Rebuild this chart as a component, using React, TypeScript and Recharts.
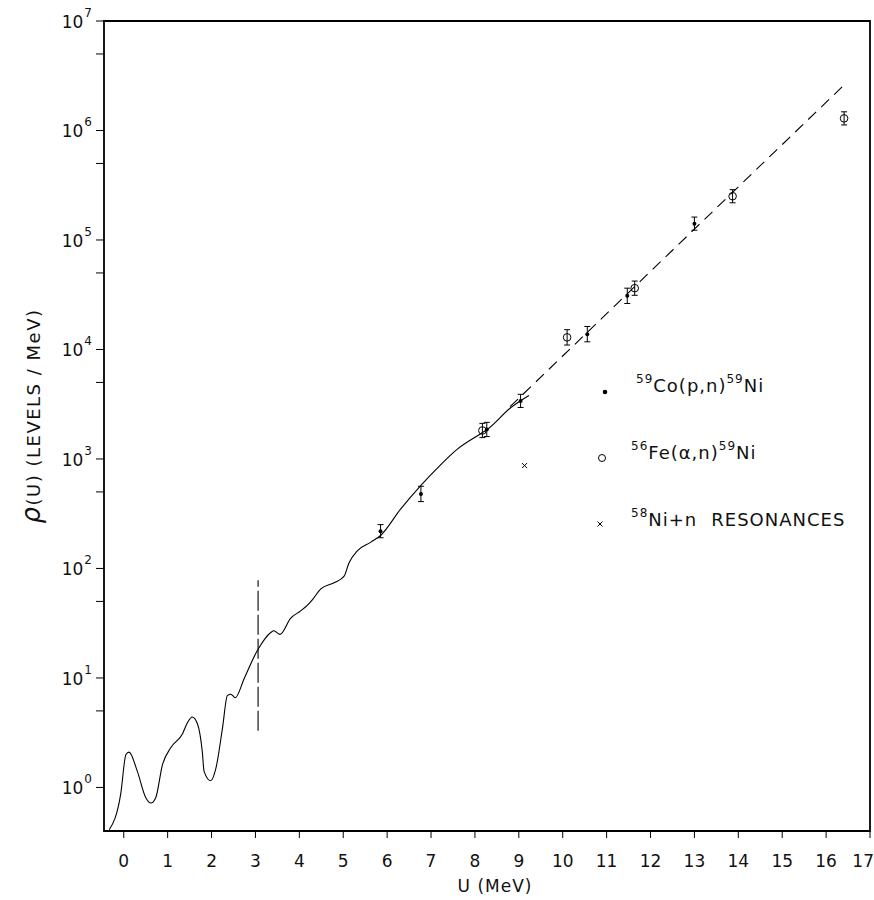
import React from 'react'
import { ComposedChart, Line, Scatter, XAxis, YAxis, ErrorBar, ReferenceArea, Customized } from 'recharts'

// Level density of 59Ni vs excitation energy.
// Solid curve (from low-lying levels)
const curveU = [
  -0.33, -0.07, 0.05, 0.12, 0.31, 0.5, 0.62, 0.73, 0.88, 1.07, 1.34, 1.45, 1.56, 1.68, 1.79, 1.83, 1.98,
  2.1, 2.25, 2.36, 2.44, 2.54, 2.74, 3.05, 3.35, 3.42, 3.56, 3.8, 4.03, 4.18, 4.3, 4.49, 4.79, 5.02,
  5.13, 5.32, 5.63, 5.85, 6.31, 6.77, 7.15, 7.6, 8.13, 8.28, 8.82, 9.04, 9.23,
]
const curveRho = [
  0.41, 0.87, 2.0, 2.1, 1.4, 0.81, 0.72, 0.81, 1.6, 2.3, 3.1, 3.9, 4.4, 3.8, 2.1, 1.4, 1.15,
  1.5, 3.5, 6.9, 7.1, 6.6, 9.8, 18, 26, 27, 25, 35, 41, 46, 52, 65, 74, 85,
  112, 145, 174, 200, 350, 575, 830, 1230, 1700, 1860, 2950, 3400, 3800,
]

// dashed extrapolation
const fitU = [8.8, 16.45]
const fitRho = [3000, 2700000]

// vertical dash-line near 3 MeV
const markU = [3.06, 3.06]
const markRho = [3.3, 78]

// 59Co(p,n)59Ni points, error as half-width in decades
const coU = [5.85, 6.77, 8.27, 9.04, 10.56, 11.47, 13.0]
const coRho = [219, 479, 1860, 3390, 13800, 30900, 141000]
const coErr = [0.06, 0.07, 0.065, 0.06, 0.07, 0.07, 0.06]

// 56Fe(a,n)59Ni points
const feU = [8.17, 10.1, 11.64, 13.87, 16.41]
const feRho = [1820, 12900, 36300, 251000, 1290000]
const feErr = [0.065, 0.07, 0.065, 0.06, 0.06]

// 58Ni+n resonances
const resU = [9.13]
const resRho = [870]

const xTicks = [0, 1, 2, 3, 4, 5, 6, 7, 8, 9, 10, 11, 12, 13, 14, 15, 16, 17]
const yTicks = [1, 5, 10, 50, 100, 500, 1e3, 5e3, 1e4, 5e4, 1e5, 5e5, 1e6, 5e6, 1e7]

const FONT = '"DejaVu Sans", sans-serif'

const zip = (u: number[], r: number[]) => u.map((x, i) => ({ u: x, rho: r[i] }))
const withErr = (u: number[], r: number[], e: number[]) =>
  u.map((x, i) => ({ u: x, rho: r[i], err: [r[i] - r[i] / 10 ** e[i], r[i] * 10 ** e[i] - r[i]] }))

const curve = zip(curveU, curveRho)
const fit = zip(fitU, fitRho)
const mark = zip(markU, markRho)
const coPts = withErr(coU, coRho, coErr)
const fePts = withErr(feU, feRho, feErr)
const resPts = zip(resU, resRho)

const Dot = (p: any) => <circle cx={p.cx} cy={p.cy} r={2} fill="#000" />
const Ring = (p: any) => <circle cx={p.cx} cy={p.cy} r={3.8} fill="none" stroke="#000" strokeWidth={1} />
const Cross = (p: any) => (
  <g stroke="#000" strokeWidth={1}>
    <line x1={p.cx - 2.5} y1={p.cy - 2.5} x2={p.cx + 2.5} y2={p.cy + 2.5} />
    <line x1={p.cx - 2.5} y1={p.cy + 2.5} x2={p.cx + 2.5} y2={p.cy - 2.5} />
  </g>
)

function YTick({ x, y, payload }: any) {
  const v = payload.value
  const e = Math.round(Math.log10(v))
  if (Math.abs(v - 10 ** e) > 1e-6 * v) return null
  return (
    <text x={x - 2} y={y + 7} textAnchor="end" fontFamily={FONT} fontSize={17} fill="#111">
      10
      <tspan dx={1} dy={-11} fontSize={12}>{e}</tspan>
    </text>
  )
}

function XTick({ x, y, payload }: any) {
  const last = payload.value === 17
  return (
    <text x={last ? 874 : x} y={y + 15} dy="0.71em" textAnchor={last ? 'end' : 'middle'} fontFamily={FONT} fontSize={17} fill="#111">
      {payload.value}
    </text>
  )
}

const YLabel = () => (
  <text transform="translate(40,416) rotate(-90)" textAnchor="middle" fontFamily={FONT} fontSize={18} letterSpacing={1.5} fill="#111">
    <tspan fontSize={26} fontStyle="italic">ρ</tspan>(U) (LEVELS / MeV)
  </text>
)

const XLabel = () => (
  <text x={495} y={892} textAnchor="middle" fontFamily={FONT} fontSize={17} letterSpacing={1} fill="#111">
    U (MeV)
  </text>
)

function LegendSvg() {
  const t = { fontFamily: FONT, fontSize: 18, letterSpacing: 1, fill: '#111' }
  return (
    <g>
      <circle cx={605} cy={392} r={2.3} fill="#000" />
      <text x={636} y={392} {...t}>
        <tspan fontSize={12} dy={-9}>59</tspan>
        <tspan dy={9}>Co(p,n)</tspan>
        <tspan fontSize={12} dy={-9}>59</tspan>
        <tspan dy={9}>Ni</tspan>
      </text>
      <circle cx={602} cy={458} r={3.5} fill="none" stroke="#000" />
      <text x={631} y={459} {...t}>
        <tspan fontSize={12} dy={-9}>56</tspan>
        <tspan dy={9}>Fe(α,n)</tspan>
        <tspan fontSize={12} dy={-9}>59</tspan>
        <tspan dy={9}>Ni</tspan>
      </text>
      <g stroke="#000" strokeWidth={1}>
        <line x1={597.5} y1={521.5} x2={602.5} y2={526.5} />
        <line x1={597.5} y1={526.5} x2={602.5} y2={521.5} />
      </g>
      <text x={631} y={526} {...t}>
        <tspan fontSize={12} dy={-9}>58</tspan>
        <tspan dy={9}>Ni+n</tspan>
        <tspan dx={14}>RESONANCES</tspan>
      </text>
    </g>
  )
}

export default function App() {
  return (
    <div style={{ position: 'absolute', left: 0, top: 0, background: '#fff' }}>
      <ComposedChart width={874} height={900} margin={{ top: 21, right: 4, bottom: 0, left: 0 }}>
        <XAxis
          type="number"
          dataKey="u"
          domain={[-0.45, 17]}
          ticks={xTicks}
          interval={0}
          allowDataOverflow
          height={69}
          axisLine={false}
          tickSize={7}
          tickLine={{ stroke: '#000' }}
          tick={<XTick />}
          label={<XLabel />}
        />
        <YAxis
          type="number"
          dataKey="rho"
          scale="log"
          domain={[0.4, 1e7]}
          ticks={yTicks}
          interval={0}
          allowDataOverflow
          width={104}
          axisLine={false}
          tickSize={8}
          tickLine={{ stroke: '#000' }}
          tick={<YTick />}
          label={<YLabel />}
        />
        <ReferenceArea x1={-0.45} x2={17} y1={0.4} y2={1e7} fill="none" stroke="#000" strokeWidth={1.8} />
        <Line data={curve} dataKey="rho" type="monotone" stroke="#000" strokeWidth={1.1} dot={false} isAnimationActive={false} />
        <Line data={fit} dataKey="rho" type="linear" stroke="#000" strokeWidth={1.1} strokeDasharray="11 7" dot={false} isAnimationActive={false} />
        <Line data={mark} dataKey="rho" type="linear" stroke="#000" strokeWidth={1.1} strokeDasharray="20 4" dot={false} isAnimationActive={false} />
        <Scatter data={coPts} dataKey="rho" shape={Dot} isAnimationActive={false}>
          <ErrorBar dataKey="err" direction="y" width={3} stroke="#000" strokeWidth={1} />
        </Scatter>
        <Scatter data={fePts} dataKey="rho" shape={Ring} isAnimationActive={false}>
          <ErrorBar dataKey="err" direction="y" width={3} stroke="#000" strokeWidth={1} />
        </Scatter>
        <Scatter data={resPts} dataKey="rho" shape={Cross} isAnimationActive={false} />
        <Customized component={LegendSvg} />
      </ComposedChart>
    </div>
  )
}
